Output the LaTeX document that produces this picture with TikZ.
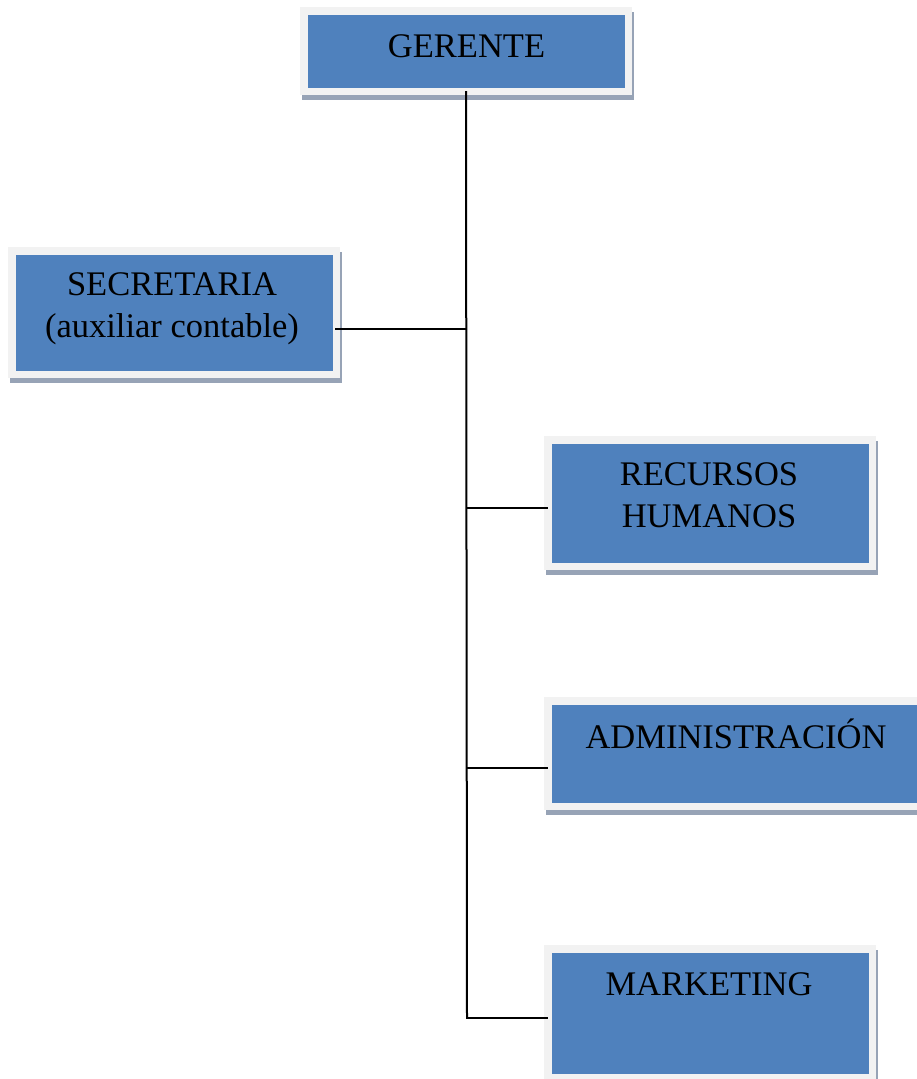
\documentclass[tikz,border=0pt]{standalone}
\usepackage{fontspec}
\setmainfont{Liberation Serif}
\usetikzlibrary{shadows,calc}
\definecolor{boxblue}{HTML}{4F81BD}
\definecolor{framegray}{HTML}{F2F2F2}
\definecolor{shadowc}{HTML}{97A3B6}
\tikzset{
  orgbox/.style={rectangle, inner sep=0pt, fill=framegray,
    drop shadow={shadow xshift=2pt, shadow yshift=-5pt, fill=shadowc, opacity=1},
    path picture={\fill[boxblue] ([shift={(7.5pt,-7.5pt)}]path picture bounding box.north west) rectangle ([shift={(-7.5pt,7.5pt)}]path picture bounding box.south east);}},
  lbl/.style={inner sep=0pt, font=\fontsize{34.5}{42}\selectfont, text=black, align=center, anchor=base},
  conn/.style={line width=2pt, black}
}
\begin{document}
\begin{tikzpicture}[x=1pt,y=1pt]
\useasboundingbox (0,0) rectangle (917,-1079);
\fill[white] (0,0) rectangle (917,-1079);
% boxes
\node[orgbox, minimum width=332pt, minimum height=88pt] (ger) at (466,-51) {};
\node[orgbox, minimum width=332pt, minimum height=131pt] (sec) at (174,-312.5) {};
\node[orgbox, minimum width=332pt, minimum height=134pt] (rh) at (710,-503) {};
\node[orgbox, minimum width=384pt, minimum height=113pt] (adm) at (736,-753.5) {};
\node[orgbox, minimum width=332pt, minimum height=136pt] (mkt) at (710,-1013) {};
% labels (multi-line labels are anchored at the baseline of their last line)
\node[lbl] (gerT) at (466.5,-57) {GERENTE};
\node[lbl] (secT) at (172,-337) {SECRETARIA\\(auxiliar contable)};
\node[lbl] (rhT) at (709,-527) {RECURSOS\\HUMANOS};
\node[lbl] (admT) at (736,-748) {ADMINISTRACIÓN};
\node[lbl] (mktT) at (709,-995) {MARKETING};
% connectors
\coordinate (j1) at (467,-329);
\coordinate (j2) at (467,-508);
\coordinate (j3) at (467,-768);
\coordinate (j4) at (467,-1018);
\draw[conn] ([yshift=4pt]ger.south) -- (j4);
\draw[conn] (j1) -- ([xshift=-5pt]j1 -| sec.east);
\draw[conn] (j2) -- ([xshift=4pt]j2 -| rh.west);
\draw[conn] (j3) -- ([xshift=4pt]j3 -| adm.west);
\draw[conn] ([xshift=-1pt]j4) -- ([xshift=4pt]j4 -| mkt.west);
\end{tikzpicture}
\end{document}
